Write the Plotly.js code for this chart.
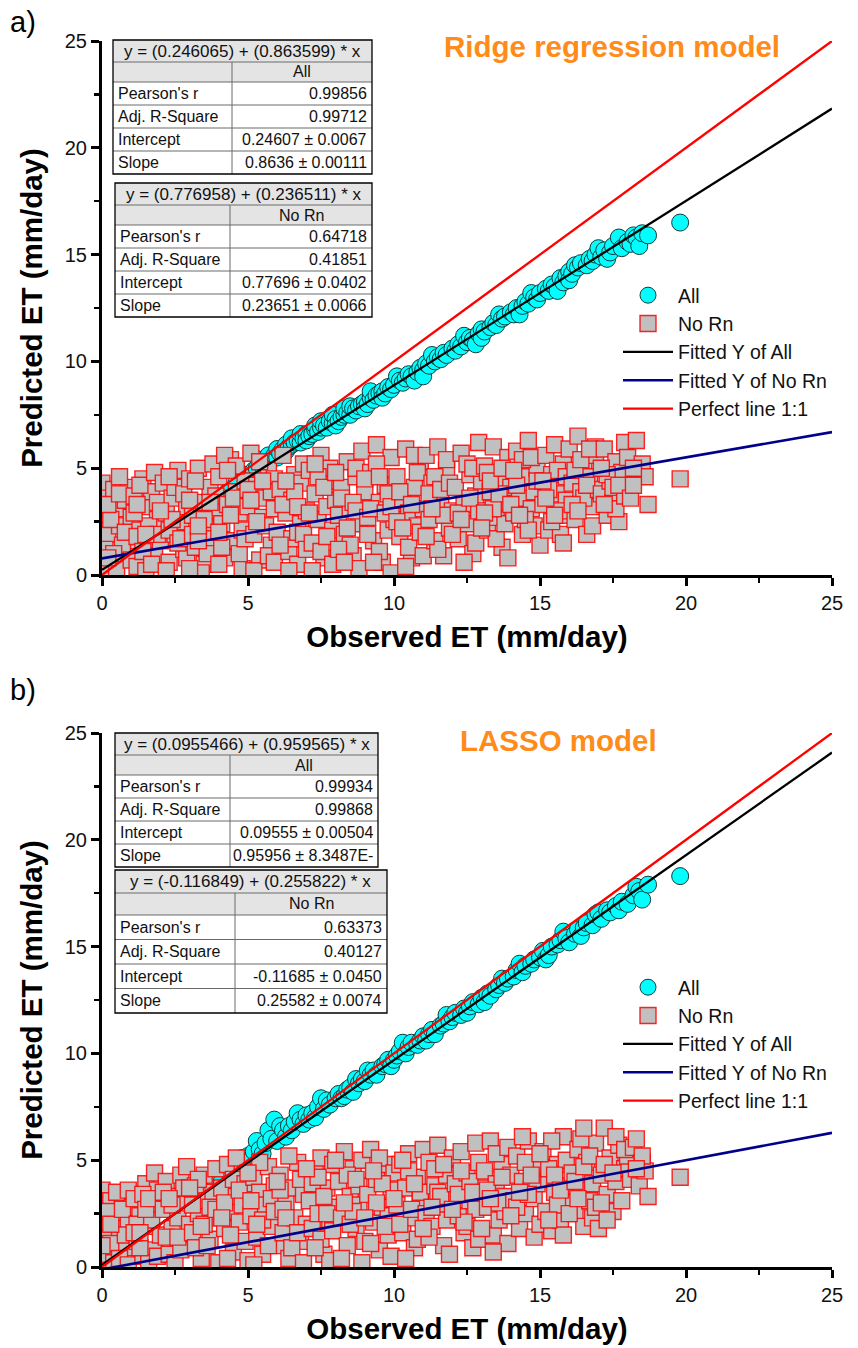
<!DOCTYPE html>
<html><head><meta charset="utf-8">
<script src="https://cdn.plot.ly/plotly-3.0.1.min.js"></script>
<style>html,body{margin:0;padding:0;background:#fff}#chart{width:858px;height:1348px}</style>
</head><body><div id="chart"></div>
<script>
// ---------------- DATA ----------------
const ridgeAll = [[2.6,2.0],[3.3,2.9],[3.6,3.4],[4.3,3.9],[4.6,4.3],
[5.0,4.7],[5.2,4.9],[5.3,5.0],[5.4,5.4],[5.5,5.1],[5.6,5.3],[5.7,5.6],[5.8,5.4],[5.9,5.6],[6.0,5.5],[6.0,5.9],[6.1,5.7],[6.2,5.9],[6.3,5.8],[6.3,6.1],[6.4,6.0],[6.5,6.1],[6.5,6.4],[6.6,6.2],[6.7,6.3],[6.8,6.2],[6.8,6.6],[6.9,6.4],[7.0,6.6],[7.0,6.3],[7.1,6.5],[7.2,6.6],[7.3,6.8],[7.3,7.0],[7.4,6.7],[7.5,6.9],[7.5,7.2],[7.6,7.0],[7.7,6.9],[7.8,7.2],[7.9,7.1],[7.9,7.5],[8.0,7.3],[8.0,7.0],[8.1,7.2],[8.2,7.4],[8.3,7.5],[8.3,7.8],[8.4,7.6],[8.5,7.5],[8.5,7.9],[8.6,7.8],[8.7,7.7],[8.8,7.9],[8.9,8.0],[9.0,8.1],[9.0,7.8],[9.1,8.0],[9.2,8.3],[9.2,8.6],[9.3,8.2],[9.4,8.4],[9.5,8.5],[9.6,8.6],[9.6,8.3],[9.7,8.5],[9.8,8.8],[9.9,8.7],[10.0,8.9],[10.1,9.3],[10.2,9.1],[10.3,9.0],[10.4,9.2],[10.5,9.4],[10.6,9.3],[10.7,9.1],[10.8,9.5],[10.9,9.7],[11.0,9.6],[11.0,9.3],[11.1,9.9],[11.2,9.8],[11.3,10.3],[11.4,10.0],[11.5,10.2],[11.6,10.1],[11.7,10.4],[11.8,10.3],[12.0,10.6],[12.1,10.5],[12.2,10.8],[12.3,10.7],[12.4,11.2],[12.5,10.9],[12.6,11.1],[12.7,11.0],[12.8,10.8],[12.9,11.3],[13.0,11.5],[13.0,11.1],[13.1,11.4],[13.3,11.6],[13.4,11.8],[13.5,11.7],[13.6,12.2],[13.7,12.0],[13.8,12.1],[14.0,12.3],[14.1,12.2],[14.2,12.5],[14.3,12.2],[14.4,12.6],[14.5,12.8],[14.6,12.7],[14.7,13.2],[14.8,13.0],[14.9,12.9],[15.0,13.2],[15.2,13.4],[15.3,13.3],[15.4,13.6],[15.5,13.5],[15.6,13.3],[15.7,13.9],[15.8,13.7],[15.9,14.0],[16.0,14.2],[16.0,13.8],[16.1,14.1],[16.2,14.5],[16.3,14.4],[16.4,14.6],[16.6,14.5],[16.7,14.8],[16.8,14.7],[16.9,15.0],[17.0,15.3],[17.1,14.9],[17.2,15.2],[17.3,14.8],[17.4,15.1],[17.5,15.4],[17.7,15.8],[17.8,15.3],[18.0,15.6],[18.1,15.5],[18.2,15.9],[18.3,15.8],[18.4,15.4],[18.5,16.0],[18.7,15.9],[19.8,16.5]];

const ridgeNoRn = [[0.0,4.3],[0.1,3.6],[0.0,2.8],[0.2,1.9],[0.1,1.2],[0.3,0.5],[0.0,0.1],[0.4,4.0],[0.5,3.1],[0.6,2.3],[0.7,0.9],[0.3,2.6],[0.8,3.5],[0.9,1.6],[0.5,0.3],[0.2,3.3],[0.9,4.1],[1.0,2.7],[0.7,1.4],[0.4,1.0],[0.6,4.6],[1.0,0.7],[0.2,0.8],[0.6,3.8],[0.8,2.0],
[1.1,3.7],[1.2,0.4],[1.3,2.1],[1.4,4.5],[1.5,3.2],[1.6,1.3],[1.7,3.9],[1.8,0.9],[1.9,2.6],[1.2,1.8],[1.5,0.2],[1.3,4.2],[1.8,4.8],[1.9,3.4],[1.6,2.3],[1.1,2.9],[1.4,1.1],[2.0,1.6],[1.9,1.9],[1.2,3.3],[1.5,1.9],[1.7,0.5],
[2.1,4.3],[2.2,2.9],[2.3,0.6],[2.4,3.6],[2.5,1.9],[2.6,4.9],[2.7,2.5],[2.8,1.2],[2.9,3.2],[2.2,0.2],[2.5,4.1],[2.8,3.8],[2.3,2.1],[2.9,0.8],[2.6,1.5],[3.0,4.5],[2.4,2.6],[2.0,3.0],[2.3,4.6],[2.7,1.7],
[3.1,2.8],[3.2,1.3],[3.3,5.0],[3.4,3.4],[3.5,0.5],[3.6,2.2],[3.7,4.1],[3.8,1.7],[3.9,3.0],[3.2,4.4],[3.5,2.6],[3.8,5.2],[3.4,0.1],[3.9,3.7],[3.1,1.9],[3.6,1.0],[3.0,3.5],[3.3,1.6],[3.0,0.3],[3.3,2.3],[3.7,3.4],
[4.0,4.6],[4.1,2.4],[4.2,0.8],[4.3,3.3],[4.4,5.4],[4.5,1.6],[4.6,3.9],[4.7,2.9],[4.8,0.3],[4.9,4.4],[4.2,5.6],[4.5,3.6],[4.8,2.1],[4.1,1.3],[4.6,5.1],[5.0,3.2],[4.0,2.0],[4.3,4.9],[4.7,1.0],[4.0,0.5],[4.4,2.8],[4.9,1.7],
[5.1,5.7],[5.2,1.9],[5.3,4.2],[5.4,0.7],[5.5,2.7],[5.6,3.6],[5.7,4.9],[5.8,1.4],[5.9,3.1],[5.2,0.2],[5.6,2.3],[5.9,4.5],[5.4,5.3],[5.7,0.9],[6.0,2.0],[5.0,4.0],[5.3,2.5],[5.8,3.9],[5.1,3.5],[5.5,4.4],[5.9,0.6],
[6.1,4.0],[6.2,5.6],[6.3,2.9],[6.4,1.1],[6.5,3.5],[6.6,4.7],[6.7,0.5],[6.8,2.4],[6.9,5.2],[6.2,3.3],[6.5,1.7],[6.8,4.3],[7.0,3.0],[6.4,0.2],[6.7,2.0],[6.1,1.4],[6.6,3.9],[6.9,1.9],[6.3,4.4],[6.7,3.2],[7.0,1.2],
[7.1,4.9],[7.2,1.5],[7.3,3.8],[7.4,2.6],[7.5,5.6],[7.6,0.8],[7.7,3.2],[7.8,4.4],[7.9,2.1],[7.2,0.2],[7.5,1.1],[7.8,5.0],[8.0,3.5],[7.4,4.6],[7.9,0.5],[7.1,2.9],[7.6,4.1],[7.3,5.2],[7.7,1.8],
[8.1,2.8],[8.2,4.1],[8.3,1.9],[8.4,5.3],[8.5,3.1],[8.6,0.9],[8.7,4.6],[8.8,2.4],[8.9,5.8],[8.2,3.6],[8.5,1.4],[8.8,0.3],[9.0,3.9],[8.4,2.2],[8.7,5.0],[8.1,1.2],[8.6,3.4],[8.0,4.8],[8.3,0.6],[8.7,3.0],
[9.1,2.7],[9.2,4.8],[9.3,1.6],[9.4,6.1],[9.5,3.4],[9.6,0.6],[9.7,4.2],[9.8,2.1],[9.9,5.5],[9.2,3.1],[9.5,1.1],[9.8,3.8],[10.0,2.6],[9.4,5.2],[9.9,0.1],[9.0,4.5],[9.3,0.6],[9.7,2.9],[9.1,1.9],[9.5,4.6],[9.9,3.2],
[10.1,4.6],[10.2,1.8],[10.3,3.5],[10.4,5.9],[10.5,2.9],[10.6,0.8],[10.7,4.1],[10.8,2.3],[10.9,5.3],[10.2,3.9],[10.5,1.3],[10.8,4.8],[11.0,3.1],[10.4,0.4],[10.9,2.0],[10.1,2.5],[10.6,3.3],[10.3,2.2],[10.7,5.6],[11.0,0.9],
[11.1,5.6],[11.2,2.6],[11.3,4.3],[11.4,1.6],[11.5,6.0],[11.6,3.4],[11.7,0.9],[11.8,4.9],[11.9,2.2],[11.2,3.8],[11.5,1.2],[11.8,5.4],[12.0,3.0],[11.4,4.6],[11.7,2.8],[11.1,1.8],[11.6,4.0],[11.3,3.1],[11.9,4.3],
[12.1,4.1],[12.2,1.7],[12.3,5.7],[12.4,3.3],[12.5,2.4],[12.6,4.7],[12.7,1.0],[12.8,3.7],[12.9,6.2],[12.2,2.9],[12.5,5.2],[12.8,1.5],[13.0,4.4],[12.4,0.6],[12.9,3.0],[12.0,1.9],[12.6,3.6],[12.3,2.6],[12.7,5.0],
[13.1,5.1],[13.2,2.1],[13.3,3.9],[13.4,6.0],[13.5,2.7],[13.6,4.5],[13.7,1.3],[13.8,3.4],[13.9,5.5],[13.2,4.8],[13.5,1.7],[13.8,2.4],[14.0,4.1],[13.4,3.1],[13.9,0.8],[13.1,2.9],[13.6,3.8],[13.0,2.2],[13.3,4.4],[13.7,5.0],
[14.1,2.9],[14.2,5.8],[14.3,3.6],[14.4,1.9],[14.5,4.6],[14.6,6.3],[14.7,3.1],[14.8,2.3],[14.9,5.0],[14.2,4.2],[14.5,2.6],[14.8,3.9],[15.0,1.4],[14.4,5.4],[14.9,4.4],[14.1,4.9],[14.6,2.1],[14.0,3.3],[14.3,2.8],[14.7,5.5],
[15.1,3.3],[15.2,5.6],[15.3,2.1],[15.4,4.7],[15.5,6.1],[15.6,3.8],[15.7,1.9],[15.8,5.2],[15.9,2.8],[15.3,4.0],[15.6,4.9],[15.9,3.5],[16.0,5.9],[15.4,2.5],[15.8,1.5],[15.1,4.4],[15.7,3.0],[15.2,3.6],[15.5,2.8],[15.9,4.6],
[16.1,4.3],[16.2,2.6],[16.3,6.5],[16.4,3.9],[16.5,5.1],[16.6,1.9],[16.7,4.6],[16.8,3.2],[16.9,5.6],[16.2,4.9],[16.5,3.6],[16.8,2.3],[17.0,4.0],[16.4,5.4],[16.9,6.0],[16.1,3.3],[16.6,4.2],[16.3,3.0],[16.7,5.9],
[17.1,3.8],[17.2,5.9],[17.3,2.8],[17.4,4.4],[17.5,3.4],[17.6,5.3],[17.7,2.5],[17.8,4.8],[17.9,6.2],[17.3,4.7],[17.6,3.1],[18.0,5.5],[17.1,5.0],[17.5,4.1],[17.9,3.7],[17.2,3.3],[17.7,4.2],
[18.1,3.6],[18.3,6.3],[18.4,4.9],[18.5,5.2],[18.6,4.6],[18.7,3.3],[18.2,5.0],[18.2,4.2],[19.8,4.5]];

const lassoAll = [[3.0,3.6],[3.2,3.3],[3.9,3.9],[4.1,4.0],[4.4,4.3],
[4.6,4.8],[4.8,5.1],[5.0,5.2],[5.1,5.0],[5.2,5.4],[5.3,5.9],[5.4,5.5],[5.5,5.3],[5.6,5.8],[5.7,6.4],[5.8,6.0],[5.9,6.9],[6.0,5.9],[6.1,6.6],[6.2,6.4],[6.3,6.1],[6.4,6.6],[6.5,6.4],[6.6,6.8],[6.7,7.2],[6.8,6.9],[6.9,6.7],[7.0,7.1],[7.1,6.9],[7.2,7.2],[7.3,7.0],[7.4,7.5],[7.5,7.9],[7.6,7.4],[7.7,7.8],[7.8,7.6],[8.0,7.9],[8.1,8.1],[8.2,7.9],[8.3,8.0],[8.4,8.3],[8.5,8.4],[8.6,8.2],[8.7,8.8],[8.8,8.6],[8.9,8.8],[9.0,8.7],[9.1,9.2],[9.2,9.0],[9.3,9.2],[9.4,9.0],[9.6,9.4],[9.7,9.5],[9.8,9.7],[9.9,9.4],[10.0,9.7],[10.1,9.9],[10.2,10.1],[10.3,10.5],[10.4,10.0],[10.5,10.3],[10.6,10.5],[10.8,10.4],[10.9,10.6],[11.0,10.8],[11.1,10.6],[11.2,10.9],[11.3,11.1],[11.4,10.9],[11.6,11.3],[11.7,11.4],[11.8,11.8],[11.9,11.5],[12.0,11.7],[12.1,11.9],[12.3,11.8],[12.4,12.1],[12.5,11.9],[12.6,12.2],[12.7,12.4],[12.9,12.3],[13.0,12.6],[13.1,12.4],[13.2,12.8],[13.3,12.7],[13.5,13.0],[13.6,13.2],[13.7,13.5],[13.8,13.3],[13.9,13.5],[14.1,13.6],[14.2,13.9],[14.3,14.2],[14.4,13.8],[14.5,14.1],[14.7,14.2],[14.8,14.4],[15.0,14.5],[15.1,14.8],[15.2,14.4],[15.3,14.6],[15.4,15.0],[15.6,15.1],[15.7,15.3],[15.8,15.7],[15.9,15.4],[16.0,15.2],[16.2,15.6],[16.3,15.8],[16.4,15.5],[16.5,15.9],[16.6,16.1],[16.8,16.0],[16.9,16.5],[17.0,16.6],[17.1,16.3],[17.3,16.7],[17.4,16.6],[17.6,16.9],[17.7,16.7],[17.8,17.1],[18.0,17.0],[18.2,17.4],[18.3,17.8],[18.4,17.6],[18.5,17.2],[18.7,17.9],[19.8,18.3]];

const lassoNoRn = [[0.0,3.6],[0.1,2.9],[0.0,2.1],[0.2,1.4],[0.1,0.6],[0.3,3.1],[0.4,0.2],[0.5,2.5],[0.6,1.8],[0.7,3.3],[0.8,0.9],[0.9,2.2],[0.3,1.1],[0.6,0.4],[1.0,2.8],[0.5,3.5],[0.8,1.5],[0.2,2.6],[0.9,0.1],[0.0,1.0],[0.3,2.0],[0.7,2.7],[0.9,3.6],
[1.1,3.2],[1.2,1.2],[1.3,2.4],[1.4,0.5],[1.5,3.9],[1.6,1.9],[1.7,2.9],[1.8,0.8],[1.9,3.6],[1.2,2.0],[1.4,3.4],[1.6,0.2],[1.8,4.4],[2.0,1.5],[1.3,0.9],[1.7,2.2],[1.1,1.6],[1.5,2.7],[1.3,1.6],[1.6,3.2],[1.9,0.5],
[2.1,2.7],[2.2,4.0],[2.3,0.6],[2.4,1.8],[2.5,3.3],[2.6,2.3],[2.7,4.3],[2.8,1.1],[2.9,3.0],[2.2,1.4],[2.5,0.2],[2.8,3.7],[3.0,2.0],[2.4,2.9],[2.7,0.8],[2.9,4.7],[2.1,3.5],[2.3,3.2],[2.6,1.4],
[3.1,1.6],[3.2,3.8],[3.3,2.5],[3.4,0.4],[3.5,4.3],[3.6,3.1],[3.7,1.3],[3.8,2.3],[3.9,4.6],[3.2,0.9],[3.5,2.0],[3.8,3.5],[4.0,0.2],[3.3,4.1],[3.7,2.8],[3.6,1.0],[3.1,2.9],[3.0,3.7],[3.4,1.9],[3.9,2.7],
[4.1,3.7],[4.2,1.8],[4.3,4.8],[4.4,2.6],[4.5,0.7],[4.6,3.3],[4.7,2.1],[4.8,4.5],[4.9,1.2],[4.2,3.0],[4.5,4.1],[4.8,2.9],[5.0,0.3],[4.4,1.5],[4.9,3.9],[4.6,5.1],[4.1,2.3],[4.3,0.4],[4.7,3.6],
[5.1,2.4],[5.2,4.2],[5.3,1.4],[5.4,3.5],[5.5,0.6],[5.6,2.9],[5.7,4.7],[5.8,1.9],[5.9,3.8],[5.2,0.1],[5.5,2.2],[5.8,3.2],[6.0,1.0],[5.4,4.9],[5.9,2.6],[5.1,3.1],[5.0,4.4],[5.3,2.0],[5.7,1.0],
[6.1,4.3],[6.2,1.6],[6.3,3.0],[6.4,0.4],[6.5,3.7],[6.6,2.3],[6.7,4.9],[6.8,1.2],[6.9,3.4],[6.2,2.7],[6.5,0.9],[6.8,4.1],[7.0,2.0],[6.4,5.2],[6.9,0.2],[6.1,3.6],[6.0,4.0],[6.3,2.3],[6.7,1.6],
[7.1,3.1],[7.2,1.8],[7.3,4.5],[7.4,2.5],[7.5,5.1],[7.6,0.6],[7.7,3.7],[7.8,2.1],[7.9,4.8],[7.2,3.9],[7.5,1.3],[7.8,0.3],[8.0,2.8],[7.4,4.2],[7.9,1.7],[7.6,3.3],[7.0,4.6],[7.3,0.9],[7.7,2.5],
[8.1,4.0],[8.2,2.3],[8.3,5.4],[8.4,1.0],[8.5,3.3],[8.6,4.6],[8.7,1.8],[8.8,2.9],[8.9,5.0],[8.2,0.4],[8.5,2.0],[8.8,3.8],[9.0,1.2],[8.4,4.3],[8.9,0.2],[8.6,2.6],[8.0,5.0],[8.3,3.0],[8.7,4.1],
[9.1,3.4],[9.2,5.5],[9.3,2.1],[9.4,4.1],[9.5,0.8],[9.6,2.8],[9.7,4.8],[9.8,1.5],[9.9,3.6],[9.2,1.1],[9.5,5.1],[9.8,2.4],[10.0,4.4],[9.4,3.0],[9.9,0.5],[9.6,3.9],[9.0,2.3],[9.3,4.5],[9.7,1.9],
[10.1,2.9],[10.2,4.8],[10.3,1.6],[10.4,3.7],[10.5,5.3],[10.6,2.3],[10.7,0.9],[10.8,4.2],[10.9,3.1],[10.2,2.0],[10.5,4.5],[10.8,1.3],[11.0,5.5],[10.4,0.4],[10.9,3.5],[10.6,2.7],[10.0,3.2],[10.3,5.0],[10.7,3.9],
[11.1,2.5],[11.2,4.9],[11.3,1.9],[11.4,3.8],[11.5,5.7],[11.6,2.9],[11.7,1.0],[11.8,4.3],[11.9,3.2],[11.2,1.4],[11.5,3.5],[11.8,2.2],[12.0,5.1],[11.4,4.6],[11.9,0.6],[11.6,3.3],[11.0,1.8],[11.3,2.8],[11.7,4.8],
[12.1,3.9],[12.2,2.4],[12.3,5.4],[12.4,1.6],[12.5,4.4],[12.6,3.1],[12.7,0.9],[12.8,2.7],[12.9,4.9],[12.2,3.4],[12.5,1.9],[12.8,5.8],[13.0,3.7],[12.4,2.1],[12.9,1.3],[12.6,4.0],[12.0,2.7],[12.3,4.5],[12.7,3.5],
[13.1,4.5],[13.2,2.8],[13.3,5.9],[13.4,1.5],[13.5,3.9],[13.6,2.2],[13.7,4.8],[13.8,3.3],[13.9,1.1],[13.2,3.6],[13.5,5.3],[13.8,2.6],[14.0,4.3],[13.4,0.7],[13.9,5.6],[13.6,3.0],[13.0,1.8],[13.3,3.2],[13.7,4.2],
[14.1,3.1],[14.2,5.2],[14.3,1.8],[14.4,4.0],[14.5,2.5],[14.6,5.9],[14.7,3.6],[14.8,1.4],[14.9,4.6],[14.2,2.8],[14.5,4.9],[14.8,3.2],[15.0,2.0],[14.4,6.1],[14.9,3.9],[14.6,3.4],[14.0,2.4],[14.3,3.5],[14.7,4.3],
[15.1,5.4],[15.2,2.6],[15.3,4.1],[15.4,1.7],[15.5,3.5],[15.6,4.8],[15.7,2.2],[15.8,6.1],[15.9,3.0],[15.3,4.6],[15.6,2.9],[15.9,5.0],[16.0,3.8],[15.4,5.9],[15.8,1.5],[15.5,4.3],[15.0,5.3],[15.3,2.2],[15.7,3.6],
[16.1,4.4],[16.2,2.5],[16.3,5.5],[16.4,3.6],[16.5,1.9],[16.6,4.9],[16.7,3.1],[16.8,2.3],[16.9,5.8],[16.2,4.0],[16.5,4.7],[16.8,3.9],[17.0,1.8],[16.4,6.0],[16.9,2.8],[16.5,6.5],[16.0,2.5],[16.3,3.2],[16.7,5.2],
[17.1,4.3],[17.2,6.5],[17.3,3.4],[17.4,5.1],[17.5,2.6],[17.6,4.0],[17.7,5.7],[17.8,3.1],[17.9,4.6],[17.3,2.2],[17.6,6.1],[18.0,5.2],[17.2,4.8],[17.1,3.0],[17.5,4.4],[17.9,5.5],
[18.1,4.1],[18.2,5.6],[18.3,6.0],[18.4,3.8],[18.5,4.9],[18.6,4.5],[18.7,3.3],[18.5,5.2],[18.3,4.6],[19.8,4.2]];

// fit coefficients [intercept, slope]
const ridgeFitAll = [0.246065, 0.863599];
const ridgeFitNoRn = [0.776958, 0.236511];
const lassoFitAll = [0.0955466, 0.959565];
const lassoFitNoRn = [-0.116849, 0.255822];
const perfectLine = [0, 1];
const lineXRange = [0, 25];

const seriesNames = ['All', 'No Rn', 'Fitted Y of All', 'Fitted Y of No Rn', 'Perfect line 1:1'];
const axisTicks = [0, 5, 10, 15, 20, 25];
const panelTitles = ['Ridge regression model', 'LASSO model'];
const panelLetters = ['a)', 'b)'];
const xTitle = 'Observed ET (mm/day)';
const yTitle = 'Predicted ET (mm/day)';

const statLabels = ["Pearson's r", 'Adj. R-Square', 'Intercept', 'Slope'];
const ridgeEqAll = 'y = (0.246065) + (0.863599) * x';
const ridgeStatsAll = ['0.99856', '0.99712', '0.24607 ± 0.0067', '0.8636 ± 0.00111'];
const ridgeEqNoRn = 'y = (0.776958) + (0.236511) * x';
const ridgeStatsNoRn = ['0.64718', '0.41851', '0.77696 ± 0.0402', '0.23651 ± 0.0066'];
const lassoEqAll = 'y = (0.0955466) + (0.959565) * x';
const lassoStatsAll = ['0.99934', '0.99868', '0.09555 ± 0.00504', '0.95956 ± 8.3487E-'];
const lassoEqNoRn = 'y = (-0.116849) + (0.255822) * x';
const lassoStatsNoRn = ['0.63373', '0.40127', '-0.11685 ± 0.0450', '0.25582 ± 0.0074'];

// ---------------- BUILD ----------------
const W = 858, H = 1348;
const FONT = 'Liberation Sans, Arial, Helvetica, sans-serif';
const px = v => v / W;
const py = v => 1 - v / H;

const shapes = [];
const annotations = [];

function addTable(left, div, right, top, heights, eq, col, vals) {
  const ys = [top];
  heights.forEach(h => ys.push(ys[ys.length - 1] + h));
  const bottom = ys[ys.length - 1];
  shapes.push({type: 'rect', xref: 'paper', yref: 'paper', x0: px(left), x1: px(right), y0: py(top), y1: py(ys[2]),
    fillcolor: '#e4e4e4', line: {width: 0}, layer: 'above'});
  shapes.push({type: 'rect', xref: 'paper', yref: 'paper', x0: px(left), x1: px(right), y0: py(ys[2]), y1: py(bottom),
    fillcolor: '#ffffff', line: {width: 0}, layer: 'above'});
  for (let i = 1; i < ys.length - 1; i++) {
    shapes.push({type: 'line', xref: 'paper', yref: 'paper', x0: px(left), x1: px(right), y0: py(ys[i]), y1: py(ys[i]),
      line: {color: '#6a6a6a', width: 1}, layer: 'above'});
  }
  shapes.push({type: 'line', xref: 'paper', yref: 'paper', x0: px(div), x1: px(div), y0: py(ys[1]), y1: py(bottom),
    line: {color: '#6a6a6a', width: 1}, layer: 'above'});
  shapes.push({type: 'rect', xref: 'paper', yref: 'paper', x0: px(left), x1: px(right), y0: py(top), y1: py(bottom),
    fillcolor: 'rgba(0,0,0,0)', line: {color: '#000', width: 1.3}, layer: 'above'});
  const tf = {family: FONT, size: 16, color: '#111'};
  const ef = {family: FONT, size: 17, color: '#111'};
  const mid = i => py((ys[i] + ys[i + 1]) / 2);
  annotations.push({xref: 'paper', yref: 'paper', x: px((left + right) / 2), y: mid(0), text: eq, showarrow: false,
    xanchor: 'center', yanchor: 'middle', font: ef});
  annotations.push({xref: 'paper', yref: 'paper', x: px((div + right) / 2), y: mid(1), text: col, showarrow: false,
    xanchor: 'center', yanchor: 'middle', font: tf});
  statLabels.forEach((lab, k) => {
    annotations.push({xref: 'paper', yref: 'paper', x: px(left + 3), y: mid(k + 2), text: lab, showarrow: false,
      xanchor: 'left', yanchor: 'middle', font: tf});
    annotations.push({xref: 'paper', yref: 'paper', x: px(right - 3), y: mid(k + 2), text: vals[k], showarrow: false,
      xanchor: 'right', yanchor: 'middle', font: tf});
  });
}

addTable(113, 232, 372, 40, [22, 20, 23, 23, 23, 23], ridgeEqAll, 'All', ridgeStatsAll);
addTable(115, 230, 372, 183, [22, 20, 23, 23, 23, 23], ridgeEqNoRn, 'No Rn', ridgeStatsNoRn);
addTable(115, 230, 378, 733, [22, 20, 23, 23, 23, 23], lassoEqAll, 'All', lassoStatsAll);
addTable(115, 235, 387, 870, [23, 22, 24.5, 24.5, 24.5, 24.5], lassoEqNoRn, 'No Rn', lassoStatsNoRn);

const titleFont = {family: FONT, size: 29.5, color: '#FF8C1A', weight: 'bold'};
annotations.push({xref: 'paper', yref: 'paper', x: px(612), y: py(46), text: panelTitles[0], showarrow: false,
  xanchor: 'center', yanchor: 'middle', font: titleFont});
annotations.push({xref: 'paper', yref: 'paper', x: px(558), y: py(740), text: panelTitles[1], showarrow: false,
  xanchor: 'center', yanchor: 'middle', font: titleFont});
annotations.push({xref: 'paper', yref: 'paper', x: px(8), y: py(22), text: panelLetters[0], showarrow: false,
  xanchor: 'left', yanchor: 'middle', font: {family: FONT, size: 29, color: '#000'}});
annotations.push({xref: 'paper', yref: 'paper', x: px(8), y: py(690), text: panelLetters[1], showarrow: false,
  xanchor: 'left', yanchor: 'middle', font: {family: FONT, size: 29, color: '#000'}});

function panelTraces(allPts, noRnPts, fitAll, fitNoRn, xa, ya, leg) {
  const lineY = c => lineXRange.map(x => c[0] + c[1] * x);
  return [
    {type: 'scatter', mode: 'markers', name: seriesNames[0], x: allPts.map(p => p[0]), y: allPts.map(p => p[1]),
      xaxis: xa, yaxis: ya, legend: leg,
      marker: {symbol: 'circle', size: 17, color: '#00FFFF', line: {color: '#123b3b', width: 1}}},
    {type: 'scatter', mode: 'markers', name: seriesNames[1], x: noRnPts.map(p => p[0]), y: noRnPts.map(p => p[1]),
      xaxis: xa, yaxis: ya, legend: leg,
      marker: {symbol: 'square', size: 16, color: '#C0C0C0', line: {color: 'rgba(255,0,0,0.85)', width: 1.4}}},
    {type: 'scatter', mode: 'lines', name: seriesNames[2], x: lineXRange, y: lineY(fitAll),
      xaxis: xa, yaxis: ya, legend: leg, line: {color: '#000000', width: 2.3}},
    {type: 'scatter', mode: 'lines', name: seriesNames[3], x: lineXRange, y: lineY(fitNoRn),
      xaxis: xa, yaxis: ya, legend: leg, line: {color: '#00008B', width: 2.6}},
    {type: 'scatter', mode: 'lines', name: seriesNames[4], x: lineXRange, y: lineY(perfectLine),
      xaxis: xa, yaxis: ya, legend: leg, line: {color: '#FF0000', width: 2.3}}
  ];
}

const data = [].concat(
  panelTraces(ridgeAll, ridgeNoRn, ridgeFitAll, ridgeFitNoRn, 'x', 'y', 'legend'),
  panelTraces(lassoAll, lassoNoRn, lassoFitAll, lassoFitNoRn, 'x2', 'y2', 'legend2')
);

function xAxis(anchor) {
  return {
    anchor: anchor, domain: [px(102), px(832)], range: [0, 25], tickvals: axisTicks,
    ticks: 'outside', ticklen: 8, tickwidth: 3, tickcolor: '#000',
    showline: true, linewidth: 3, linecolor: '#000', mirror: false, showgrid: false, zeroline: false,
    minor: {ticks: 'outside', dtick: 2.5, tick0: 0, ticklen: 5, tickwidth: 2.5, tickcolor: '#000', showgrid: false},
    tickfont: {family: FONT, size: 20, color: '#111'},
    title: {text: xTitle, font: {family: FONT, size: 29.5, color: '#000', weight: 'bold'}, standoff: 14},
    fixedrange: true
  };
}
function yAxis(anchor, top, bottom) {
  return {
    anchor: anchor, domain: [py(bottom), py(top)], range: [0, 25], tickvals: axisTicks,
    ticks: 'outside', ticklen: 8, tickwidth: 3, tickcolor: '#000',
    showline: true, linewidth: 3, linecolor: '#000', mirror: false, showgrid: false, zeroline: false,
    minor: {ticks: 'outside', dtick: 2.5, tick0: 0, ticklen: 5, tickwidth: 2.5, tickcolor: '#000', showgrid: false},
    tickfont: {family: FONT, size: 20, color: '#111'},
    title: {text: yTitle, font: {family: FONT, size: 29.5, color: '#000', weight: 'bold'}, standoff: 14},
    fixedrange: true
  };
}

const legendBase = {xanchor: 'left', yanchor: 'top', bgcolor: 'rgba(0,0,0,0)', borderwidth: 0,
  font: {family: FONT, size: 19.5, color: '#111'}, itemwidth: 50, traceorder: 'normal', tracegroupgap: 0};

const layout = {
  width: W, height: H, margin: {l: 0, r: 0, t: 0, b: 0}, paper_bgcolor: '#fff', plot_bgcolor: '#fff',
  showlegend: true,
  xaxis: xAxis('y'), yaxis: yAxis('x', 41, 575),
  xaxis2: xAxis('y2'), yaxis2: yAxis('x2', 733, 1267),
  legend: Object.assign({}, legendBase, {x: px(618), y: py(276)}),
  legend2: Object.assign({}, legendBase, {x: px(618), y: py(968)}),
  shapes: shapes, annotations: annotations
};

Plotly.newPlot('chart', data, layout, {displayModeBar: false, staticPlot: true});
</script></body></html>
